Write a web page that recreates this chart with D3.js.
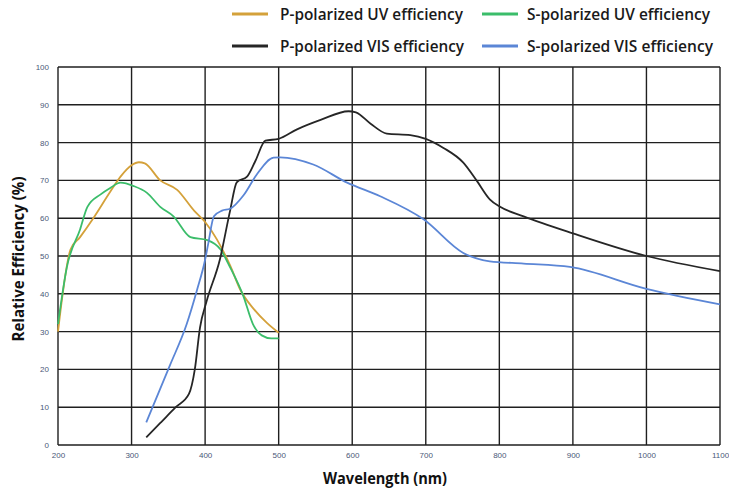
<!DOCTYPE html>
<html><head><meta charset="utf-8">
<script src="https://cdn.jsdelivr.net/npm/d3@7"></script>
<style>body{margin:0;background:#fff}svg{display:block}</style>
</head><body>
<svg id="chart" width="729" height="493"></svg>
<script>
const xTicks = [200,300,400,500,600,700,800,900,1000,1100];
const yTicks = [0,10,20,30,40,50,60,70,80,90,100];

const pUV = [[200,30],[217,51.7],[230,55],[248,60],[271,67],[285,71],[300,74],[310,74.8],[318,74.5],[339,70],[362,67.5],[385,62],[400,59],[416,54.4],[434,47.5],[448,41],[466,36],[484,32.3],[500,29.7]];
const sUV = [[200,32],[212,47],[230,57],[240,63],[258,66.3],[271,68],[285,69.4],[303,68.5],[321,66.7],[339,63],[357,60.5],[380,55],[403,54.2],[421,51.7],[434,47],[452,39.4],[465,32],[477,29],[490,28.2],[500,28.2]];
const pVIS = [[320,2],[340,6],[360,10],[378,13.5],[386,20],[393,31],[402,38],[420,49],[434,62],[443,69.5],[457,71],[468,75],[482,80.5],[500,81],[525,83.5],[557,86],[595,88.3],[605,88],[625,85],[647,82.4],[679,82],[700,81],[724,78.6],[751,74.7],[769,70],[787,65],[801,63],[833,60.5],[900,56],[1000,50],[1100,46]];
const sVIS = [[320,6],[352,21],[375,32],[389,41],[400,49],[404,53],[412,60.5],[423,62],[434,62.5],[452,66],[470,71.5],[493,76],[502,76.1],[547,74.2],[593,69.4],[638,65.8],[697,59.7],[751,50.8],[787,48.6],[833,48],[896,47.1],[1000,41.3],[1100,37.2]];

const seriesNames = ["P-polarized UV efficiency","S-polarized UV efficiency","P-polarized VIS efficiency","S-polarized VIS efficiency"];
const seriesData = [pUV, sUV, pVIS, sVIS];
const seriesColors = ["#d4a13a","#3bbd6a","#262626","#5b86d6"];

const svg = d3.select("#chart");
const m = {l:58, r:9, t:67, b:48};
const W = 729, H = 493;
const x = d3.scaleLinear().domain([200,1100]).range([m.l, W - m.r]);
const y = d3.scaleLinear().domain([0,100]).range([H - m.b, m.t]);

// grid
const g = svg.append("g");
g.selectAll(".vg").data(xTicks).join("line")
  .attr("x1", d=>x(d)).attr("x2", d=>x(d)).attr("y1", y(0)).attr("y2", y(100))
  .attr("stroke","#1f1f1f").attr("stroke-width",1.4);
g.selectAll(".hg").data(yTicks).join("line")
  .attr("y1", d=>y(d)).attr("y2", d=>y(d)).attr("x1", x(200)).attr("x2", x(1100))
  .attr("stroke","#1f1f1f").attr("stroke-width",1.4);

// axes labels
const xAxis = d3.axisBottom(x).tickValues(xTicks).tickFormat(d3.format("d")).tickSize(0).tickPadding(7);
const ax = svg.append("g").attr("transform",`translate(0,${y(0)})`).call(xAxis);
const yAxis = d3.axisLeft(y).tickValues(yTicks).tickFormat(d3.format("d")).tickSize(0).tickPadding(9);
const ay = svg.append("g").attr("transform",`translate(${x(200)},0)`).call(yAxis);
[ax, ay].forEach(a => {
  a.select(".domain").remove();
  a.selectAll("text").attr("fill","#4a5878").style("font-family","'Liberation Sans', Arial, sans-serif").style("font-size","8px");
});

// lines
const line = d3.line().x(d=>x(d[0])).y(d=>y(d[1])).curve(d3.curveMonotoneX);
seriesData.forEach((s,i) => {
  svg.append("path").datum(s).attr("d", line).attr("fill","none")
    .attr("stroke", seriesColors[i]).attr("stroke-width", 1.8).attr("stroke-linejoin","round");
});

// legend
const leg = [
  {i:0, lx:232, tx:280, ly:14, w:183},{i:1, lx:482, tx:527, ly:14, w:183},
  {i:2, lx:232, tx:280, ly:46, w:184},{i:3, lx:482, tx:527, ly:46, w:186}
];
leg.forEach(o => {
  svg.append("line").attr("x1",o.lx).attr("x2",o.lx+36).attr("y1",o.ly).attr("y2",o.ly)
    .attr("stroke",seriesColors[o.i]).attr("stroke-width",3);
  svg.append("text").attr("x",o.tx).attr("y",o.ly).attr("dy","0.36em")
    .attr("fill","#1a1a1a").style("font-family","'Open Sans', sans-serif").style("font-weight","600")
    .style("font-size","16.5px").attr("textLength", o.w).attr("lengthAdjust","spacingAndGlyphs")
    .text(seriesNames[o.i]);
});

// axis titles
svg.append("text").attr("x", 385).attr("y", 484).attr("text-anchor","middle")
  .style("font-family","'Open Sans', sans-serif").style("font-weight","700").style("font-size","16px")
  .attr("textLength",124).attr("lengthAdjust","spacingAndGlyphs")
  .attr("fill","#111").text("Wavelength (nm)");
svg.append("text").attr("transform","translate(24,259) rotate(-90)").attr("text-anchor","middle")
  .style("font-family","'Open Sans', sans-serif").style("font-weight","700").style("font-size","15.5px")
  .attr("textLength",165).attr("lengthAdjust","spacingAndGlyphs")
  .attr("fill","#111").text("Relative Efficiency (%)");
</script>
</body></html>
